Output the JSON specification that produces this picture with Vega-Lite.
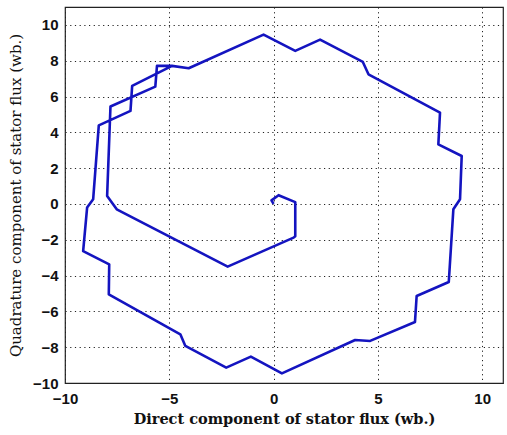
{
  "$schema": "https://vega.github.io/schema/vega-lite/v6.json",
  "width": 438,
  "height": 376,
  "autosize": {"type": "none"},
  "padding": {"left": 65, "top": 7, "right": 4, "bottom": 52},
  "background": "white",
  "config": {
    "view": {"stroke": "#222222", "strokeWidth": 1.2},
    "axis": {
      "grid": true,
      "gridColor": "#222222",
      "gridDash": [1.2, 3.5],
      "gridWidth": 1,
      "gridOpacity": 1,
      "domain": false,
      "ticks": false,
      "labelFont": "Liberation Sans",
      "labelFontWeight": "bold",
      "labelFontSize": 15,
      "labelColor": "#111111",
      "titleFont": "DejaVu Serif",
      "titleFontWeight": "bold",
      "titleFontSize": 14.5,
      "titleColor": "#111111"
    }
  },
  "data": {
    "values": [
      {"i": 0, "d": 0.0, "q": 0.0},
      {"i": 1, "d": -0.1, "q": 0.2},
      {"i": 2, "d": 0.24, "q": 0.49},
      {"i": 3, "d": 1.04, "q": 0.1},
      {"i": 4, "d": 1.04, "q": -1.8},
      {"i": 5, "d": 0.96, "q": -1.88},
      {"i": 6, "d": -2.2, "q": -3.5},
      {"i": 7, "d": -7.52, "q": -0.3},
      {"i": 8, "d": -7.98, "q": 0.45},
      {"i": 9, "d": -7.82, "q": 5.44},
      {"i": 10, "d": -5.67, "q": 6.55},
      {"i": 11, "d": -5.59, "q": 7.71},
      {"i": 12, "d": -4.87, "q": 7.71},
      {"i": 13, "d": -4.07, "q": 7.58},
      {"i": 14, "d": -0.48, "q": 9.46},
      {"i": 15, "d": 1.04, "q": 8.55},
      {"i": 16, "d": 2.23, "q": 9.18},
      {"i": 17, "d": 4.28, "q": 7.93},
      {"i": 18, "d": 4.55, "q": 7.24},
      {"i": 19, "d": 7.98, "q": 5.1},
      {"i": 20, "d": 7.9, "q": 3.33},
      {"i": 21, "d": 9.02, "q": 2.68},
      {"i": 22, "d": 8.94, "q": 0.26},
      {"i": 23, "d": 8.62, "q": -0.3},
      {"i": 24, "d": 8.4, "q": -4.36},
      {"i": 25, "d": 6.86, "q": -5.14},
      {"i": 26, "d": 6.78, "q": -6.59},
      {"i": 27, "d": 4.63, "q": -7.65},
      {"i": 28, "d": 3.91, "q": -7.6},
      {"i": 29, "d": 0.4, "q": -9.46},
      {"i": 30, "d": -1.09, "q": -8.53},
      {"i": 31, "d": -2.27, "q": -9.14},
      {"i": 32, "d": -4.23, "q": -7.93},
      {"i": 33, "d": -4.47, "q": -7.28},
      {"i": 34, "d": -7.9, "q": -5.05},
      {"i": 35, "d": -7.88, "q": -3.37},
      {"i": 36, "d": -9.13, "q": -2.63},
      {"i": 37, "d": -8.94, "q": -0.2},
      {"i": 38, "d": -8.65, "q": 0.26},
      {"i": 39, "d": -8.38, "q": 4.39},
      {"i": 40, "d": -6.86, "q": 5.2},
      {"i": 41, "d": -6.78, "q": 6.59},
      {"i": 42, "d": -4.87, "q": 7.71},
      {"i": 43, "d": -4.07, "q": 7.58}
    ]
  },
  "mark": {"type": "line", "color": "#1414c0", "strokeWidth": 2.6, "strokeJoin": "round", "clip": true},
  "encoding": {
    "x": {
      "field": "d", "type": "quantitative",
      "scale": {"domain": [-10, 11], "nice": false, "zero": false},
      "axis": {"values": [-10, -5, 0, 5, 10], "labelPadding": 8, "titlePadding": 6, "title": "Direct component of stator flux (wb.)", "labelFlush": false}
    },
    "y": {
      "field": "q", "type": "quantitative",
      "scale": {"domain": [-10, 11], "nice": false, "zero": false},
      "axis": {"values": [-10, -8, -6, -4, -2, 0, 2, 4, 6, 8, 10], "labelPadding": 7, "titlePadding": 9, "titleFontWeight": "normal", "titleFontSize": 15, "title": "Quadrature component of stator flux (wb.)", "labelFlush": false}
    },
    "order": {"field": "i", "type": "quantitative"}
  }
}
